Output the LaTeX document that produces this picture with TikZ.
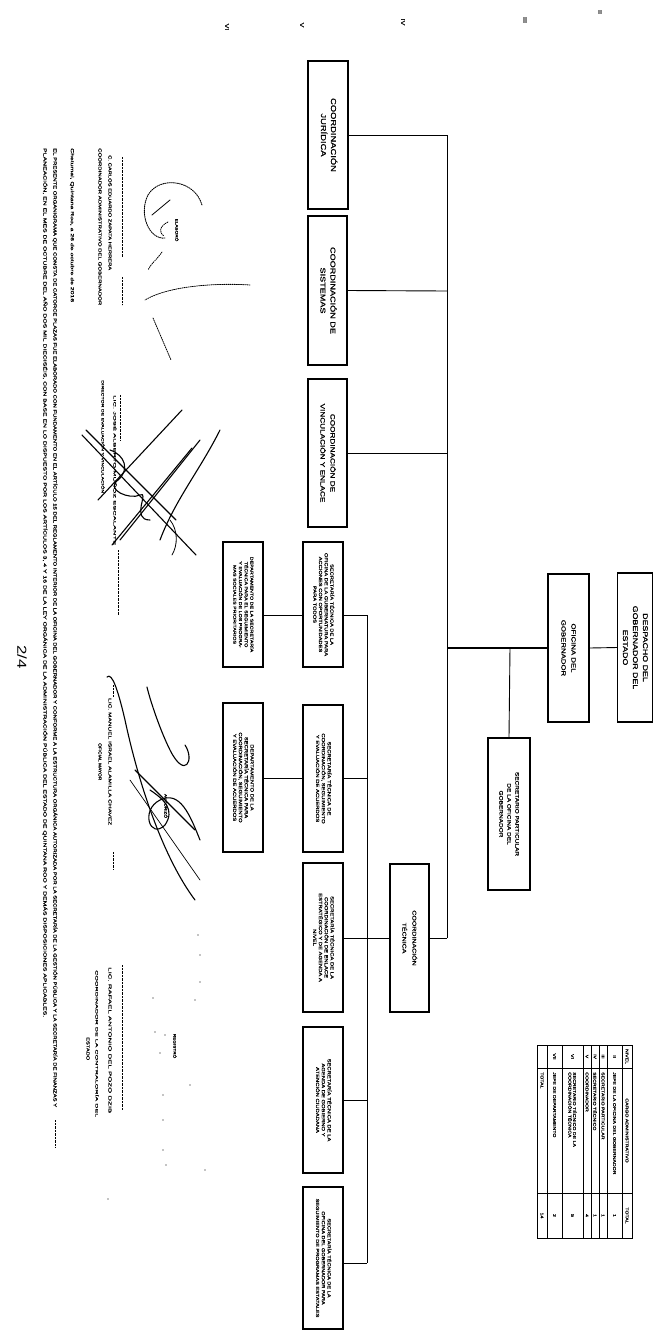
\documentclass[tikz,border=0pt]{standalone}
\usepackage{fontspec}
\setmainfont{Liberation Sans}
\newfontfamily\wf{Liberation Sans}[FakeStretch=1.3]
\newfontfamily\wfb{Liberation Sans}[FakeStretch=1.3, FakeBold=1]
\usepackage{graphicx}
\usetikzlibrary{calc}
\newcommand\rtext[2]{\rotatebox{-90}{#1\begin{tabular}{@{}c@{}}#2\end{tabular}}}
\newcommand\fitl[3]{\resizebox{#1}{#2}{#3}}
\begin{document}
\begin{tikzpicture}[x=1pt,y=-1pt,
  box/.style={draw, line width=1.1pt, inner sep=0pt, fill=white},
  conn/.style={line width=0.9pt},
  rt/.style={rotate=-90, inner sep=0pt},
  sig/.style={line width=1.1pt, line cap=round, line join=round},
  tline/.style={line width=0.6pt}]
\fill[white] (0,0) rectangle (653,1331);
\useasboundingbox (0,0) rectangle (653,1331);

% ---------- level marks on top ----------
\node[rt, font=\wfb\fontsize{5.5}{6}\selectfont] (m6) at (227,27) {VI};
\node[rt, font=\wfb\fontsize{5.5}{6}\selectfont] (m5) at (302,25) {V};
\node[rt, font=\wfb\fontsize{5.5}{6}\selectfont] (m4) at (403,22) {IV};
\node[rt, font=\wfb\fontsize{5.5}{6}\selectfont] (m3) at (525,20) {III};
\node[rt, font=\wfb\fontsize{5.5}{6}\selectfont] (m2) at (600,12) {II};

% ---------- boxes ----------
\node[box, minimum width=35pt, minimum height=149pt] (desp) at (635,647.5)
  {\rtext{\wfb\fontsize{6.8}{10}\selectfont}{DESPACHO DEL\\GOBERNADOR DEL\\ESTADO}};
\node[box, minimum width=41pt, minimum height=148pt] (ofi) at (568.5,648)
  {\rtext{\wfb\fontsize{6}{10}\selectfont}{OFICINA DEL\\GOBERNADOR}};
\node[box, minimum width=42pt, minimum height=152pt] (secpart) at (509,814)
  {\rtext{\wfb\fontsize{5}{8}\selectfont}{SECRETARIO PARTICULAR\\DE LA OFICINA DEL\\GOBERNADOR}};
\node[box, minimum width=40pt, minimum height=148pt] (cj) at (328,135)
  {\rtext{\wfb\fontsize{7.2}{10}\selectfont}{COORDINACIÓN\\JURÍDICA}};
\node[box, minimum width=39pt, minimum height=149pt] (cs) at (327.5,290.5)
  {\rtext{\wfb\fontsize{7}{10}\selectfont}{COORDINACIÓN DE\\SISTEMAS}};
\node[box, minimum width=39pt, minimum height=148pt] (cv) at (327.5,453)
  {\rtext{\wfb\fontsize{6.3}{10}\selectfont}{COORDINACIÓN DE\\VINCULACIÓN Y ENLACE}};
\node[box, minimum width=39pt, minimum height=148pt] (ct) at (409.5,938)
  {\rtext{\wfb\fontsize{5.4}{10}\selectfont}{COORDINACIÓN\\TÉCNICA}};

\node[box, minimum width=40pt, minimum height=125pt] (s1) at (323,604.5)
  {\rtext{\wfb\fontsize{4.4}{5.7}\selectfont}{SECRETARÍA TÉCNICA DE LA\\OFICINA DE LA GUBERNATURA PARA\\ACCIONES CON OPORTUNIDADES\\PARA TODOS}};
\node[box, minimum width=40pt, minimum height=125pt] (d1) at (243,604.5)
  {\rtext{\wfb\fontsize{4.1}{5.7}\selectfont}{DEPARTAMENTO DE LA SECRETARÍA\\TÉCNICA PARA EL SEGUIMIENTO\\Y EVALUACIÓN DE LOS PROGRA-\\MAS SOCIALES PRIORITARIOS}};
\node[box, minimum width=40pt, minimum height=147pt] (s2) at (323,778.5)
  {\rtext{\wfb\fontsize{4.5}{5.8}\selectfont}{SECRETARÍA TÉCNICA DE\\COORDINACIÓN, SEGUIMIENTO\\Y EVALUACIÓN DE ACUERDOS}};
\node[box, minimum width=40pt, minimum height=149pt] (d2) at (243,777.5)
  {\rtext{\wfb\fontsize{4.5}{5.8}\selectfont}{DEPARTAMENTO DE LA\\SECRETARÍA TÉCNICA PARA\\COORDINACIÓN, SEGUIMIENTO\\Y EVALUACIÓN DE ACUERDOS}};
\node[box, minimum width=40pt, minimum height=149pt] (s3) at (323,937.5)
  {\rtext{\wfb\fontsize{4.5}{5.8}\selectfont}{SECRETARÍA TÉCNICA DE LA\\COORDINACIÓN DE ENLACE\\ESTRATÉGICO Y DE AGENDA A\\NIVEL}};
\node[box, minimum width=40pt, minimum height=146pt] (s4) at (323,1100)
  {\rtext{\wfb\fontsize{4.5}{5.8}\selectfont}{SECRETARÍA TÉCNICA DE LA\\AGENDA DE GOBIERNO Y\\ATENCIÓN CIUDADANA}};
\node[box, minimum width=40pt, minimum height=142pt] (s5) at (323,1258)
  {\rtext{\wfb\fontsize{4.3}{5.8}\selectfont}{SECRETARÍA TÉCNICA DE LA\\OFICINA DEL GOBERNADOR PARA\\SEGUIMIENTO DE PROGRAMAS ESTATALES}};

% ---------- connectors ----------
\coordinate (jJ) at (447,135);
\coordinate (jS) at (447,291);
\coordinate (jV) at (447,453);
\coordinate (jO) at (447,648);
\coordinate (jT) at (447,938);
\coordinate (jP) at (510,648);
\coordinate (b1) at (367,615);
\coordinate (b2) at (367,778);
\coordinate (b3) at (367,938);
\coordinate (b4) at (367,1100);
\coordinate (b5) at (367,1263);

\draw[conn] (desp.west) -- (ofi.east);
\draw[conn, line width=1.2pt] (ofi.west) -- (jO);
\draw[conn] (jJ) -- (jT);
\draw[conn] (cj.east) -- (jJ);
\draw[conn] (cs.east) -- (jS);
\draw[conn] (cv.east) -- (jV);
\draw[conn] (jT) -- (ct.east);
\draw[conn] (jP) -- (secpart.north);
\draw[conn] (ct.west) -- (b3);
\draw[conn] (b1) -- (b5);
\draw[conn] (s1.east |- b1) -- (b1);
\draw[conn] (s2.east |- b2) -- (b2);
\draw[conn] (s3.east |- b3) -- (b3);
\draw[conn] (s4.east |- b4) -- (b4);
\draw[conn] (s5.east |- b5) -- (b5);
\draw[conn] (d1.east |- b1) -- (s1.west |- b1);
\draw[conn] (d2.east |- b2) -- (s2.west |- b2);

% ---------- table ----------
\draw[line width=1pt] (537,1045) rectangle (632,1238);
\foreach \xx in {607,599,591,583,562,547} \draw[tline] (\xx,1045) -- (\xx,1238);
\draw[line width=0.9pt] (622,1045) -- (622,1238);
\draw[tline] (537,1068) -- (632,1068);
\draw[tline] (537,1193) -- (632,1193);
\begin{scope}[every node/.style={rt, font=\wfb\fontsize{4}{4.6}\selectfont}]
\node (th1) at (627,1056.5) {NIVEL};
\node (th2) at (627,1130.5) {CARGO ADMINISTRATIVO};
\node (th3) at (627,1215.5) {TOTAL};
\node (ta1) at (614.5,1056.5) {II};
\node[anchor=west] (tb1) at (614.5,1072) {JEFE DE LA OFICINA DEL GOBERNADOR};
\node (tc1) at (614.5,1215.5) {1};
\node (ta2) at (603,1056.5) {III};
\node[anchor=west] (tb2) at (603,1072) {SECRETARIO PARTICULAR};
\node (tc2) at (603,1215.5) {1};
\node (ta3) at (595,1056.5) {IV};
\node[anchor=west] (tb3) at (595,1072) {SECRETARIO TÉCNICO};
\node (tc3) at (595,1215.5) {1};
\node (ta4) at (587,1056.5) {V};
\node[anchor=west] (tb4) at (587,1072) {COORDINADOR};
\node (tc4) at (587,1215.5) {4};
\node (ta5) at (572.5,1056.5) {VI};
\node[anchor=west, align=left] (tb5) at (572.5,1072) {SECRETARIO TÉCNICO DE LA\\COORDINACIÓN TÉCNICA};
\node (tc5) at (572.5,1215.5) {5};
\node (ta6) at (554.5,1056.5) {VII};
\node[anchor=west] (tb6) at (554.5,1072) {JEFE DE DEPARTAMENTO};
\node (tc6) at (554.5,1215.5) {2};
\node[anchor=west] (tb7) at (542,1072) {TOTAL};
\node (tc7) at (542,1215.5) {14};
\end{scope}

% ---------- long footer lines ----------
\node[rt, anchor=west] (foot1) at (55,148) {\fitl{959pt}{3.8pt}{\wfb EL PRESENTE ORGANIGRAMA QUE CONSTA DE CATORCE PLAZAS FUE ELABORADO CON FUNDAMENTO EN EL ARTÍCULO 15 DEL REGLAMENTO INTERIOR DE LA OFICINA DEL GOBERNADOR Y CONFORME A LA ESTRUCTURA ORGÁNICA AUTORIZADA POR LA SECRETARÍA DE LA GESTIÓN PÚBLICA Y LA SECRETARÍA DE FINANZAS Y}};
\node[rt, anchor=west] (foot2) at (45,148) {\fitl{869pt}{3.8pt}{\wfb PLANEACIÓN, EN EL MES DE OCTUBRE DEL AÑO DOS MIL DIECISÉIS, CON BASE EN LO DISPUESTO POR LOS ARTÍCULOS 3, 4 Y 16 DE LA LEY ORGÁNICA DE LA ADMINISTRACIÓN PÚBLICA DEL ESTADO DE QUINTANA ROO Y DEMÁS DISPOSICIONES APLICABLES.}};
\draw[densely dotted] (55,1120) -- (55,1147);

\node[rt, font=\wf\fontsize{13}{14}\selectfont] (pg) at (22,657) {2/4};

% ---------- signature block 1 ----------
\node[rt, font=\wfb\fontsize{3.6}{4}\selectfont] (elab) at (177,230) {ELABORÓ};
\draw[densely dotted] (122,157) -- (122,257);
\draw[densely dotted] (122,277) -- (122,305);
\node[rt, anchor=west] (n1a) at (110,155) {\fitl{115pt}{3pt}{\wfb C. CARLOS EDUARDO ZAPATA HERRERA}};
\node[rt, anchor=west] (n1b) at (100,148) {\fitl{157pt}{3pt}{\wfb COORDINADOR ADMINISTRATIVO DEL GOBERNADOR}};
\node[rt, anchor=west] (n1c) at (72,148) {\fitl{154pt}{3.2pt}{\wfb Chetumal, Quintana Roo, a 26 de octubre de 2016}};
\draw[sig, densely dotted, line width=0.9pt] (202,205) .. controls (195,180) and (160,175) .. (148,195) .. controls (138,215) and (150,240) .. (165,238);
\draw[sig, line width=0.8pt] (170,200) -- (152,215);
\draw[sig, densely dotted, line width=0.8pt] (168,222) .. controls (160,226) and (158,232) .. (164,236);
\draw[sig, densely dotted, line width=0.8pt] (162,252) .. controls (155,262) and (152,262) .. (148,270);
\draw[sig, densely dotted, line width=0.8pt] (250,285) .. controls (220,283) and (170,285) .. (145,300);
\draw[sig, densely dotted, line width=0.8pt] (153,318) -- (171,360);

% ---------- signature block 2 ----------
\draw[sig] (182,410) -- (98,500);
\draw[sig] (200,440) -- (120,540);
\draw[sig] (192,448) -- (112,545);
\draw[sig] (82,435) -- (196,555);
\draw[sig] (86,430) -- (176,520);
\draw[sig] (110,450) .. controls (125,455) and (130,470) .. (118,480) .. controls (105,490) and (130,500) .. (140,495) .. controls (150,490) and (130,520) .. (150,520);
\draw[sig] (220,430) .. controls (200,470) and (175,500) .. (160,540);
\draw[sig, line width=0.8pt] (170,520) .. controls (178,530) and (178,545) .. (172,555);
\node[rt, anchor=west] (n2a) at (115,395) {\fitl{150pt}{3pt}{\wfb LIC. JOSÉ ALBERTO MUÑOZ ESCALANTE}};
\node[rt, anchor=west] (n2b) at (103,380) {\fitl{113pt}{3pt}{\wfb DIRECTOR DE EVALUACIÓN Y VINCULACIÓN}};
\draw[densely dotted] (120,395) -- (120,440);
\draw[densely dotted] (118,550) -- (118,615);

% ---------- signature block 3 ----------
\draw[sig] (107,677) .. controls (112,672) and (118,690) .. (125,720) .. controls (140,790) and (165,860) .. (195,900);
\draw[sig] (147,687) .. controls (150,700) and (160,730) .. (170,750) .. controls (185,780) and (195,760) .. (185,745);
\draw[sig] (135,770) -- (195,830);
\draw[sig] (150,790) .. controls (165,800) and (175,810) .. (165,825) .. controls (150,840) and (140,810) .. (160,800) .. controls (180,790) and (190,815) .. (200,840);
\draw[sig, line width=0.7pt] (130,780) -- (200,880);
\node[rt, font=\wfb\fontsize{3.6}{4}\selectfont] (aut) at (166,806) {AUTORIZÓ};
\draw[densely dotted] (113,685) -- (113,697);
\draw[densely dotted] (113,852) -- (113,870);
\node[rt, anchor=west] (n3a) at (110,698) {\fitl{127pt}{3pt}{\wfb LIC. MANUEL ISRAEL ALAMILLA CHAVEZ}};
\node[rt, anchor=west] (n3b) at (100,743) {\fitl{37pt}{3pt}{\wfb OFICIAL MAYOR}};

% ---------- signature block 4 ----------
\node[rt, font=\wfb\fontsize{3.6}{4}\selectfont] (reg) at (175,1046) {REGISTRÓ};
\draw[densely dotted] (122,965) -- (122,1110);
\node[rt, anchor=west] (n4a) at (110,967) {\fitl{146pt}{3pt}{\wfb LIC. RAFAEL ANTONIO DEL POZO DZIB}};
\node[rt, anchor=west] (n4b) at (97,970) {\fitl{147pt}{3pt}{\wfb COORDINADOR DE LA CONTRALORÍA DEL}};
\node[rt, anchor=west] (n4c) at (88,1037) {\fitl{23pt}{3pt}{\wfb ESTADO}};
\foreach \px/\py in {198/935, 200/955, 200/982, 195/1000, 153/998, 155/1032, 165/1035, 160/1053, 190/1085, 163/1095, 163/1120, 163/1150, 166/1165, 205/1170, 108/1199}
  \fill (\px,\py) circle (0.7pt);
\end{tikzpicture}
\end{document}
